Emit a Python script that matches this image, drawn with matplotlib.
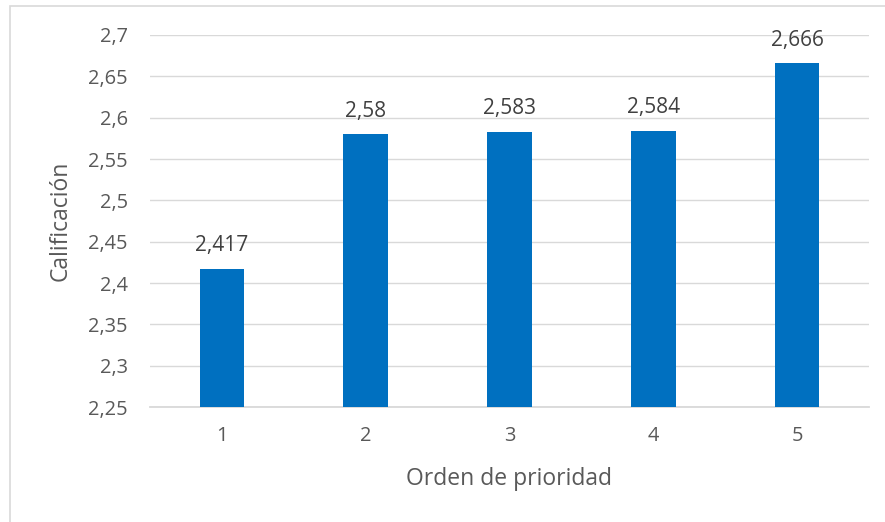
import matplotlib
matplotlib.use("Agg")
import matplotlib.pyplot as plt
from matplotlib.patches import Rectangle

categories = ["1", "2", "3", "4", "5"]
values = [2.417, 2.58, 2.583, 2.584, 2.666]
value_labels = ["2,417", "2,58", "2,583", "2,584", "2,666"]
y_ticks = [2.25, 2.3, 2.35, 2.4, 2.45, 2.5, 2.55, 2.6, 2.65, 2.7]
y_tick_labels = ["2,25", "2,3", "2,35", "2,4", "2,45", "2,5", "2,55", "2,6", "2,65", "2,7"]

W, H = 885, 522
plt.rcParams["font.family"] = ["Open Sans", "DejaVu Sans"]
text_color = "#595959"
grid_color = "#D9D9D9"
bar_color = "#0070C0"

fig = plt.figure(figsize=(W / 100, H / 100), dpi=100)
fig.patch.set_facecolor("white")

# outer chart frame (left and top edges visible)
fig.patches.append(Rectangle((10 / W, -0.1), 1.2, 1 - 6 / H + 0.1,
                             transform=fig.transFigure, fill=False,
                             edgecolor="#D9D9D9", linewidth=1.2))

left, right = 150, 869
top, bottom = 35, 407
ax = fig.add_axes([left / W, 1 - bottom / H, (right - left) / W, (bottom - top) / H])

x = list(range(len(categories)))
bars = ax.bar(x, values, width=0.31, color=bar_color, zorder=3)
ax.set_xlim(-0.5, len(categories) - 0.5)
ax.set_ylim(2.25, 2.7)

ax.set_yticks(y_ticks)
ax.set_yticklabels(y_tick_labels)
ax.set_xticks(x)
ax.set_xticklabels(categories)

for b, lab in zip(bars, value_labels):
    ax.annotate(lab, (b.get_x() + b.get_width() / 2, b.get_height()),
                xytext=(0, 9), textcoords="offset points",
                ha="center", va="bottom", fontsize=15, color="#404040")

ax.grid(axis="y", color=grid_color, linewidth=1, zorder=0)
for s in ["top", "right", "left"]:
    ax.spines[s].set_visible(False)
ax.spines["bottom"].set_color(grid_color)
ax.spines["bottom"].set_linewidth(1.3)
ax.tick_params(axis="both", length=0, labelsize=14.4, labelcolor=text_color)
ax.tick_params(axis="y", pad=16)
ax.tick_params(axis="x", pad=14)

ax.set_ylabel("Calificación", fontsize=16.5, color=text_color, labelpad=11)
ax.set_xlabel("Orden de prioridad", fontsize=16.5, color=text_color, labelpad=15)

fig.savefig("out.png", dpi=100)
